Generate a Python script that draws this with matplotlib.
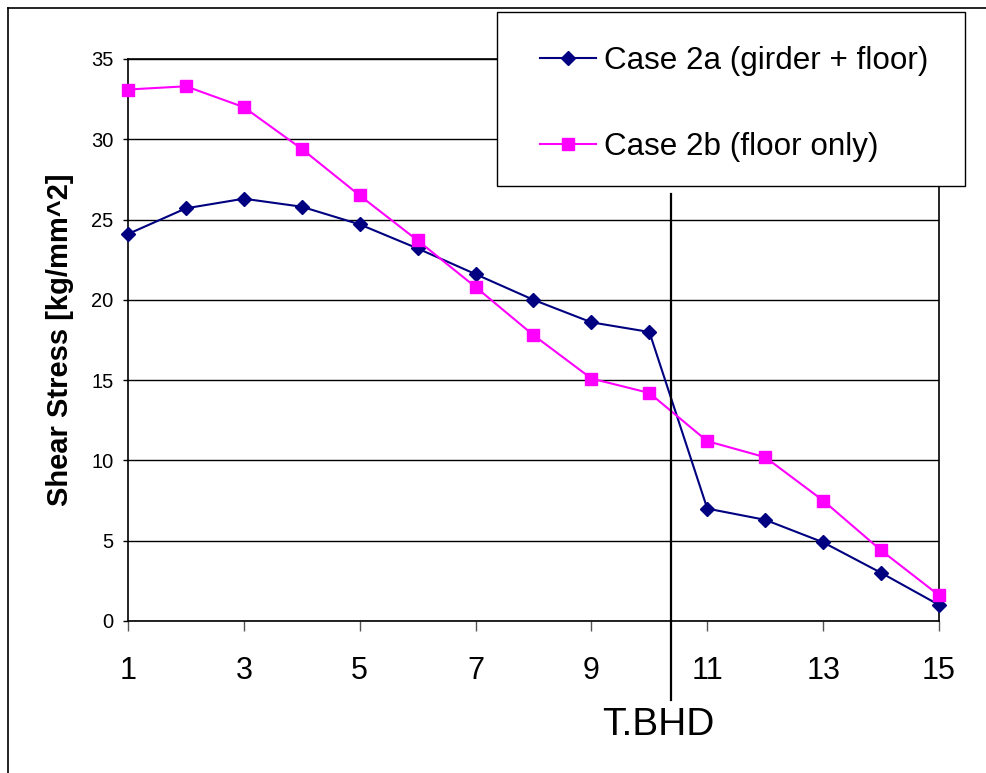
import matplotlib
matplotlib.use("Agg")
import matplotlib.pyplot as plt
from matplotlib.lines import Line2D
from matplotlib.patches import Rectangle

plt.rcParams['font.family'] = ['Liberation Sans', 'DejaVu Sans']

# data
stations = [1, 2, 3, 4, 5, 6, 7, 8, 9, 10, 11, 12, 13, 14, 15]
case_2a = [24.1, 25.7, 26.3, 25.8, 24.7, 23.2, 21.6, 20.0, 18.6, 18.0, 7.0, 6.3, 4.9, 3.0, 1.0]
case_2b = [33.1, 33.3, 32.0, 29.4, 26.5, 23.7, 20.8, 17.8, 15.1, 14.2, 11.2, 10.2, 7.5, 4.4, 1.6]
labels = ['Case 2a (girder + floor)', 'Case 2b (floor only)']
xticks = [1, 3, 5, 7, 9, 11, 13, 15]
yticks = [0, 5, 10, 15, 20, 25, 30, 35]

# bulkhead marker
bhd_x = 10.37
bhd_y = (-4.9, 26.6)

W, H = 987, 773
fig = plt.figure(figsize=(W / 100, H / 100), dpi=100)
ax = fig.add_axes([128 / W, 1 - 621 / H, (939 - 128) / W, (621 - 59) / H])

ax.plot(stations, case_2a, color='#000080', lw=1.5, marker='D', ms=7.5,
        label=labels[0], clip_on=False, zorder=3)
ax.plot(stations, case_2b, color='#FF00FF', lw=1.5, marker='s', ms=8.5,
        label=labels[1], clip_on=False, zorder=3)

ax.set_xlim(1, 15)
ax.set_ylim(0, 35)
ax.set_xticks(xticks)
ax.set_yticks(yticks)
ax.yaxis.grid(True, color='black', lw=1.0)
ax.set_axisbelow(True)
ax.tick_params(axis='x', labelsize=22, length=7, width=1, color='#555555', pad=18)
ax.tick_params(axis='y', labelsize=14.5, length=3.6, width=1, pad=7)
for s in ['left', 'bottom', 'right', 'top']:
    ax.spines[s].set_linewidth(1.2)

ax.set_ylabel('Shear Stress [kg/mm^2]', fontsize=21, fontweight='bold', labelpad=12)

ax.plot([bhd_x, bhd_x], bhd_y, color='black', lw=1.6, clip_on=False, zorder=4)
ax.text(bhd_x - 0.22, -6.5, 'T.BHD', fontsize=28, ha='center', va='center')

# legend with a hand-placed frame
fig.add_artist(Rectangle((497 / W, 1 - 186 / H), (965 - 497) / W, (186 - 12) / H,
                         transform=fig.transFigure, facecolor='white',
                         edgecolor='black', lw=1.0, zorder=5))
leg = fig.legend(loc='upper left', bbox_to_anchor=(540 / W, 1 - 46 / H),
                 frameon=False, fontsize=22.6, borderpad=0, borderaxespad=0,
                 handlelength=1.8, handletextpad=0.25, labelspacing=1.78)
leg.set_zorder(6)

# outer chart border (cropped on right and bottom)
fig.add_artist(Line2D([8 / W, 8 / W], [0, 1 - 8 / H], color='black', lw=1.2))
fig.add_artist(Line2D([8 / W, 1], [1 - 8 / H, 1 - 8 / H], color='black', lw=1.2))

fig.savefig('out.png', dpi=100)
